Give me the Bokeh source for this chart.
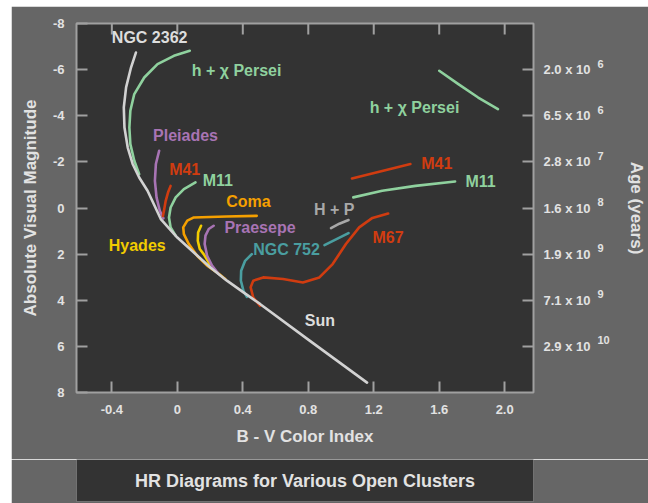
from math import pi
from bokeh.plotting import figure
from bokeh.models import Range1d, LinearAxis, FixedTicker, ColumnDataSource
from bokeh.layouts import column
from bokeh.embed import file_html
from bokeh.resources import INLINE
from bokeh.core.properties import value

FONT = "Liberation Sans"

# ---------------- data (B-V colour index, absolute visual magnitude) ----------------
ms_bv = [-0.253, -0.283, -0.313, -0.327, -0.323, -0.303, -0.273, -0.233, -0.182, -0.101,
         0.0, 0.101, 0.202, 0.303, 0.404, 0.505, 0.808, 1.159]
ms_mv = [-6.74, -6.09, -5.23, -4.36, -3.49, -2.62, -1.91, -1.32, -0.75, 0.48,
         1.28, 1.93, 2.58, 3.15, 3.66, 4.16, 5.75, 7.57]

hxp_ms_bv = [0.076, -0.021, -0.121, -0.202, -0.263, -0.287, -0.293, -0.287, -0.263, -0.233]
hxp_ms_mv = [-6.82, -6.60, -6.24, -5.66, -4.94, -4.22, -3.49, -2.77, -2.05, -1.47]
hxp_gb_bv = [1.600, 1.717, 1.838, 1.959]
hxp_gb_mv = [-5.95, -5.37, -4.79, -4.29]

pleiades_bv = [-0.111, -0.131, -0.137, -0.127, -0.107, -0.085]
pleiades_mv = [-2.48, -1.91, -1.18, -0.46, 0.12, 0.45]

m41_ms_bv = [-0.041, -0.057, -0.071, -0.080, -0.088]
m41_ms_mv = [-0.96, -0.67, -0.31, 0.05, 0.35]
m41_gb_bv = [1.067, 1.424]
m41_gb_mv = [-1.28, -1.91]

m11_ms_bv = [0.111, 0.040, -0.010, -0.041, -0.051, -0.041, -0.010]
m11_ms_mv = [-1.11, -0.82, -0.46, -0.02, 0.41, 0.84, 1.20]
m11_gb_bv = [1.075, 1.252, 1.455, 1.697]
m11_gb_mv = [-0.46, -0.75, -0.96, -1.15]

coma_bv = [0.485, 0.300, 0.101, 0.061, 0.036, 0.040, 0.070, 0.121, 0.182, 0.242, 0.293]
coma_mv = [0.34, 0.37, 0.41, 0.55, 0.84, 1.13, 1.56, 2.07, 2.50, 2.79, 3.08]

hyades_bv = [0.145, 0.127, 0.125, 0.137, 0.161, 0.200]
hyades_mv = [0.77, 1.06, 1.42, 1.78, 2.00, 2.45]

praesepe_bv = [0.222, 0.192, 0.172, 0.167, 0.182, 0.212, 0.252]
praesepe_mv = [0.77, 0.91, 1.20, 1.56, 2.07, 2.50, 2.86]

ngc752_ms_bv = [0.455, 0.414, 0.390, 0.388, 0.404, 0.425]
ngc752_ms_mv = [2.00, 2.29, 2.72, 3.15, 3.59, 3.85]
ngc752_gb_bv = [0.899, 1.046]
ngc752_gb_mv = [1.61, 1.09]

hp_gb_bv = [0.939, 0.990, 1.046]
hp_gb_mv = [0.87, 0.68, 0.52]

m67_bv = [0.505, 0.464, 0.448, 0.464, 0.525, 0.646, 0.767, 0.868, 0.949, 1.030, 1.111, 1.192, 1.288]
m67_mv = [4.24, 3.88, 3.44, 3.15, 3.01, 3.08, 3.23, 3.01, 2.43, 1.56, 0.84, 0.43, 0.24]

label_text = ["NGC 2362", "h + χ Persei", "h + χ Persei", "Pleiades", "M41", "M11", "Coma",
              "Hyades", "Praesepe", "NGC 752", "H + P", "M67", "M41", "M11", "Sun"]
label_bv = [-0.169, 0.362, 1.449, 0.050, 0.045, 0.247, 0.434, -0.245, 0.505, 0.667, 0.958,
            1.287, 1.585, 1.853, 0.871]
label_mv = [-7.39, -5.95, -4.36, -3.13, -1.65, -1.18, -0.28, 1.61, 0.84, 1.78, 0.075,
            1.30, -1.95, -1.15, 4.89]

x_ticks = [-0.4, 0.0, 0.4, 0.8, 1.2, 1.6, 2.0]
x_tick_labels = ["-0.4", "0", "0.4", "0.8", "1.2", "1.6", "2.0"]
y_ticks = [-8, -6, -4, -2, 0, 2, 4, 6, 8]
y_tick_labels = ["-8", "-6", "-4", "-2", "0", "2", "4", "6", "8"]
age_ticks = [-6, -4, -2, 0, 2, 4, 6]
age_mantissa = ["2.0 x 10", "6.5 x 10", "2.8 x 10", "1.6 x 10", "1.9 x 10", "7.1 x 10", "2.9 x 10"]
age_exponent = ["6", "6", "7", "8", "9", "9", "10"]

title_text = "HR Diagrams for Various Open Clusters"

# ---------------- styles ----------------
WHITE = "#d2d2d2"
GREEN = "#8fd19e"
PURPLE = "#a874b4"
RED = "#d03c10"
ORANGE = "#f5a000"
YELLOW = "#f2cc00"
TEAL = "#4a9ea0"
GRAY = "#a8a8a8"
OUTER = "#666666"
INNER = "#333333"
FRAME = "#a0a0a0"
TXT = "#e2e2e2"
SUP_SHIFT = 0.26  # raises the exponent labels by about 6 px

label_colors = ["#dddddd", GREEN, GREEN, PURPLE, RED, GREEN, ORANGE, YELLOW, PURPLE,
                TEAL, GRAY, RED, RED, GREEN, "#dddddd"]

p = figure(width=637, height=453,
           x_range=Range1d(-0.616, 2.176), y_range=Range1d(8, -8),
           output_backend="svg", toolbar_location=None,
           x_axis_location=None, y_axis_location=None,
           min_border_left=65, min_border_right=111, min_border_top=17, min_border_bottom=67,
           background_fill_color=INNER, border_fill_color=OUTER,
           outline_line_color=FRAME, outline_line_width=2)
p.grid.visible = False
p.extra_y_ranges = {"sup": Range1d(8 + SUP_SHIFT, -8 + SUP_SHIFT)}


def style_axis(ax):
    ax.axis_line_color = None
    ax.major_tick_line_color = FRAME
    ax.major_tick_line_width = 2
    ax.major_tick_in = 11
    ax.major_tick_out = 0
    ax.minor_tick_line_color = None
    ax.major_label_text_color = TXT
    ax.major_label_text_font = FONT
    ax.major_label_text_font_style = "bold"
    ax.major_label_text_font_size = "13px"
    ax.axis_label_text_color = TXT
    ax.axis_label_text_font = FONT
    ax.axis_label_text_font_style = "bold"
    ax.axis_label_text_font_size = "17px"
    return ax


left = style_axis(LinearAxis(ticker=FixedTicker(ticks=y_ticks),
                             axis_label="Absolute Visual Magnitude"))
left.major_label_overrides = dict(zip(y_ticks, y_tick_labels))
left.major_label_standoff = 12
left.axis_label_standoff = 10
p.add_layout(left, "left")

bottom = style_axis(LinearAxis(ticker=FixedTicker(ticks=x_ticks),
                               axis_label="B - V Color Index"))
bottom.major_label_overrides = dict(zip(x_ticks, x_tick_labels))
bottom.major_label_standoff = 12
bottom.axis_label_standoff = 10
p.add_layout(bottom, "below")

right = style_axis(LinearAxis(ticker=FixedTicker(ticks=age_ticks)))
right.major_label_overrides = dict(zip(age_ticks, age_mantissa))
right.major_label_standoff = 10
p.add_layout(right, "right")

# exponents of the age labels: a second right axis with a slightly raised range
sup = style_axis(LinearAxis(ticker=FixedTicker(ticks=age_ticks), y_range_name="sup",
                            axis_label="Age (years)"))
sup.major_tick_line_color = None
sup.major_label_overrides = dict(zip(age_ticks, age_exponent))
sup.major_label_text_font_size = "11px"
sup.major_label_standoff = 4
sup.axis_label_standoff = 14
p.add_layout(sup, "right")

# tick marks along the top edge (inner half of a vertical dash centred on the frame edge)
p.scatter(x=x_ticks, y=[y_ticks[0]] * len(x_ticks), marker="dash", angle=pi / 2, size=22,
          line_color=FRAME, line_width=2)

curves = [
    (hxp_ms_bv, hxp_ms_mv, GREEN), (hxp_gb_bv, hxp_gb_mv, GREEN),
    (pleiades_bv, pleiades_mv, PURPLE),
    (m41_ms_bv, m41_ms_mv, RED), (m41_gb_bv, m41_gb_mv, RED),
    (m11_ms_bv, m11_ms_mv, GREEN), (m11_gb_bv, m11_gb_mv, GREEN),
    (coma_bv, coma_mv, ORANGE),
    (hyades_bv, hyades_mv, YELLOW),
    (praesepe_bv, praesepe_mv, PURPLE),
    (ngc752_ms_bv, ngc752_ms_mv, TEAL), (ngc752_gb_bv, ngc752_gb_mv, TEAL),
    (hp_gb_bv, hp_gb_mv, GRAY),
    (m67_bv, m67_mv, RED),
    (ms_bv, ms_mv, WHITE),
]
for xs, ys, c in curves:
    p.line(xs, ys, line_color=c, line_width=2.6, line_join="round", line_cap="round")

src = ColumnDataSource(dict(x=label_bv, y=label_mv, text=label_text, color=label_colors))
p.text(x="x", y="y", text="text", text_color="color", source=src,
       text_font=value(FONT), text_font_style="bold", text_font_size="16px",
       text_align="center", text_baseline="middle")

t = figure(width=637, height=44, x_range=Range1d(0, 1), y_range=Range1d(0, 1),
           output_backend="svg", toolbar_location=None,
           x_axis_location=None, y_axis_location=None,
           min_border_left=65, min_border_right=111, min_border_top=0, min_border_bottom=2,
           background_fill_color=INNER, border_fill_color=OUTER, outline_line_color=None)
t.grid.visible = False
t.text(x=[0.5], y=[0.5], text=[title_text], text_color=TXT,
       text_font=value(FONT), text_font_style="bold", text_font_size="18px",
       text_align="center", text_baseline="middle")

layout = column(p, t, spacing=0, margin=(6, 0, 0, 11))
open("out.html", "w").write(file_html(layout, INLINE))
